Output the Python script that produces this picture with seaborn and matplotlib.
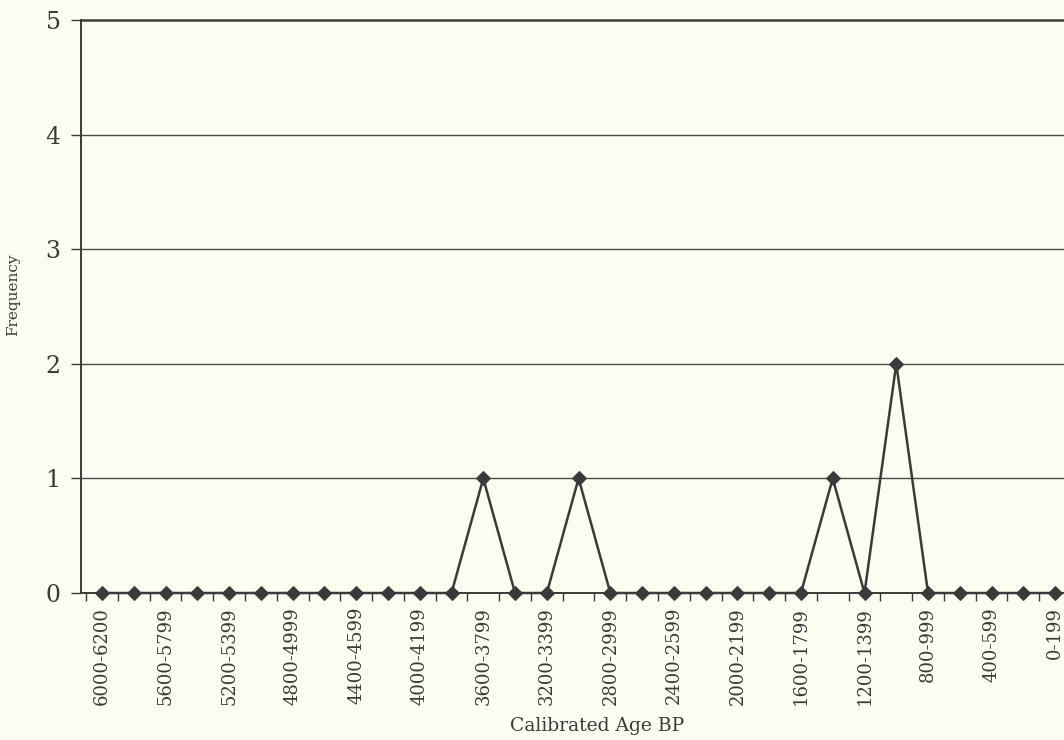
import numpy as np
import pandas as pd
import seaborn as sns
import matplotlib.pyplot as plt
from matplotlib.ticker import FixedLocator

# Data
categories = ["6000-6200"] + [f"{s}-{s + 199}" for s in range(5800, -1, -200)]
frequency = [0, 0, 0, 0, 0, 0, 0, 0, 0, 0, 0, 0, 1, 0, 0, 1,
             0, 0, 0, 0, 0, 0, 0, 1, 0, 2, 0, 0, 0, 0, 0]
y_ticks = [0, 1, 2, 3, 4, 5]

df = pd.DataFrame({"idx": np.arange(len(categories)), "Frequency": frequency})

# Theme
sns.set_theme(style="white")
plt.rcParams['font.family'] = ['DejaVu Serif']
bg = '#fdfcf1'
ink = '#3a3a3a'

fig = plt.figure(figsize=(10.64, 7.40), dpi=100, facecolor=bg)
ax = fig.add_axes([81.4 / 1064, 1 - 593 / 740, 989.6 / 1064, 573 / 740])
ax.set_facecolor(bg)

sns.lineplot(data=df, x="idx", y="Frequency", ax=ax, color=ink, linewidth=1.8,
             marker='D', markersize=7, markeredgecolor=ink, markerfacecolor=ink,
             zorder=5, clip_on=False)

# Axes limits and ticks
ax.set_xlim(-0.65, len(categories) - 0.5)
ax.set_ylim(0, 5)
ax.set_yticks(y_ticks)
ax.set_yticklabels([str(v) for v in y_ticks], fontsize=17, color=ink)

label_idx = list(range(0, len(categories), 2))
ax.set_xticks(label_idx)
ax.set_xticklabels([categories[i] for i in label_idx], rotation=90,
                   fontsize=13, color=ink)
ax.xaxis.set_minor_locator(FixedLocator(np.arange(-0.5, len(categories), 1)))
ax.tick_params(bottom=True, left=True, which='both')
ax.tick_params(axis='x', which='major', length=0, pad=10)
ax.tick_params(axis='x', which='minor', direction='out', length=6, width=1, color=ink)
ax.tick_params(axis='y', which='major', direction='out', length=7, width=1,
               color=ink, pad=8)

# Grid lines
for v in y_ticks[1:-1]:
    ax.axhline(v, color='#4a4a4a', linewidth=1.0, zorder=1)

# Spines
for name, spine in ax.spines.items():
    if name == 'right':
        spine.set_visible(False)
    else:
        spine.set_visible(True)
        spine.set_color(ink)
        spine.set_linewidth(1.8 if name == 'top' else 1.4)

ax.set_xlabel("Calibrated Age BP", fontsize=13.5, color=ink)
ax.xaxis.set_label_coords((597 - 81.4) / 989.6, -0.216)
ax.set_ylabel("Frequency", fontsize=11, color=ink)
ax.yaxis.set_label_coords(-0.062, 0.52)

fig.savefig("out.png", dpi=100, facecolor=bg)
